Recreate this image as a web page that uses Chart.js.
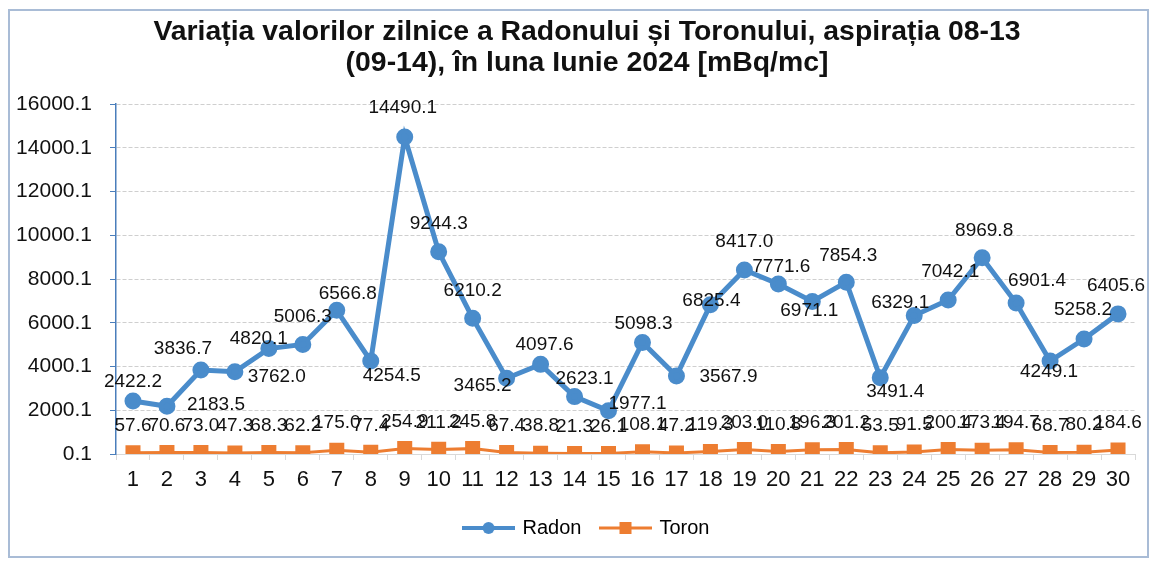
<!DOCTYPE html>
<html lang="ro">
<head>
<meta charset="UTF-8">
<title>Radon si Toron - Iunie 2024</title>
<script src="https://cdn.jsdelivr.net/npm/chart.js"></script>
<style>
  html, body { margin: 0; padding: 0; background: #fff; }
  #wrap { position: relative; width: 1155px; height: 561px; overflow: hidden; }
</style>
</head>
<body>
<div id="wrap"><canvas id="radonChart" width="1174" height="561"></canvas></div>
<script>
const days = ['1','2','3','4','5','6','7','8','9','10','11','12','13','14','15',
              '16','17','18','19','20','21','22','23','24','25','26','27','28','29','30'];
const radon = [2422.2, 2183.5, 3836.7, 3762.0, 4820.1, 5006.3, 6566.8, 4254.5, 14490.1, 9244.3,
               6210.2, 3465.2, 4097.6, 2623.1, 1977.1, 5098.3, 3567.9, 6825.4, 8417.0, 7771.6,
               6971.1, 7854.3, 3491.4, 6329.1, 7042.1, 8969.8, 6901.4, 4249.1, 5258.2, 6405.6];
const toron = [57.6, 70.6, 73.0, 47.3, 68.3, 62.2, 175.0, 77.4, 254.9, 211.2,
               245.8, 67.4, 38.8, 21.3, 26.1, 108.1, 47.2, 119.3, 203.0, 110.8,
               196.3, 201.2, 53.5, 91.5, 200.4, 173.4, 194.7, 68.7, 80.2, 184.6];
const yMin = 0.1, yMax = 16000.1, yStep = 2000;

const blue = '#4a8ccb';
const orange = '#ed7d31';

// where each Radon label sits relative to its point (like Excel placed them)
const radonLabelShift = [
  [0,-19],[49,-1],[-18,-21],[42,5],[-10,-10],[0,-28],[11,-17],[21,15],[-2,-29],[0,-28],
  [0,-27],[-24,8],[4,-20],[10,-18],[29,-7],[1,-19],[52,1],[1,-4],[0,-28],[3,-17],
  [-3,9],[2,-26],[15,14],[-14,-13],[2,-28],[2,-27],[21,-22],[-1,11],[-1,-29],[-2,-28]
];

function legendIcon(color, lineW, square) {
  const c = document.createElement('canvas');
  c.width = 53; c.height = 16;
  const g = c.getContext('2d');
  g.strokeStyle = color; g.fillStyle = color; g.lineWidth = lineW;
  g.beginPath(); g.moveTo(0, 8); g.lineTo(53, 8); g.stroke();
  if (square) { g.fillRect(20.5, 2, 12, 12); }
  else { g.beginPath(); g.arc(26.5, 8, 6, 0, Math.PI * 2); g.fill(); }
  return c;
}

const valueLabels = {
  id: 'valueLabels',
  afterDatasetsDraw(chart) {
    const ctx = chart.ctx;
    ctx.save();
    ctx.font = '19px "Liberation Sans", Arial, sans-serif';
    ctx.fillStyle = '#111';
    ctx.textAlign = 'center';
    ctx.textBaseline = 'middle';
    chart.getDatasetMeta(1).data.forEach((pt, i) => {
      ctx.fillText(toron[i].toFixed(1), pt.x, pt.y - 27);
    });
    chart.getDatasetMeta(0).data.forEach((pt, i) => {
      const s = radonLabelShift[i];
      ctx.fillText(radon[i].toFixed(1), pt.x + s[0], pt.y + s[1]);
    });
    ctx.restore();
  }
};

const frame = {
  id: 'frame',
  beforeDraw(chart) {
    const ctx = chart.ctx;
    ctx.save();
    ctx.strokeStyle = '#a9bcd6';
    ctx.lineWidth = 2;
    ctx.strokeRect(9, 10, 1139, 547);
    ctx.restore();
  }
};

Chart.defaults.font.family = '"Liberation Sans", Arial, sans-serif';
Chart.defaults.color = '#000';

new Chart(document.getElementById('radonChart'), {
  type: 'line',
  data: {
    labels: days,
    datasets: [
      {
        label: 'Radon',
        data: radon,
        borderColor: blue,
        backgroundColor: blue,
        borderWidth: 5,
        pointStyle: 'circle',
        pointRadius: 6,
        pointHoverRadius: 6,
        tension: 0
      },
      {
        label: 'Toron',
        data: toron,
        borderColor: orange,
        backgroundColor: orange,
        borderWidth: 3,
        pointStyle: 'rect',
        pointRadius: 8.5,
        pointHoverRadius: 8.5,
        tension: 0
      }
    ]
  },
  options: {
    responsive: false,
    animation: false,
    layout: { padding: { top: 10, left: 0, right: 0, bottom: 13 } },
    plugins: {
      title: {
        display: true,
        text: ['Variația valorilor zilnice a Radonului și Toronului, aspirația 08-13',
               '(09-14), în luna Iunie 2024 [mBq/mc]'],
        font: { size: 28.4, weight: 'bold', lineHeight: 1.09 },
        color: '#111',
        padding: { top: 6.6, bottom: 25.5 }
      },
      legend: {
        position: 'bottom',
        labels: {
          font: { size: 20 },
          color: '#111',
          usePointStyle: true,
          pointStyleWidth: 48,
          padding: 20,
          generateLabels() {
            return [
              { text: 'Radon', pointStyle: legendIcon(blue, 4, false), fillStyle: blue, strokeStyle: blue, lineWidth: 0, datasetIndex: 0, hidden: false },
              { text: 'Toron', pointStyle: legendIcon(orange, 3, true), fillStyle: orange, strokeStyle: orange, lineWidth: 0, datasetIndex: 1, hidden: false }
            ];
          }
        }
      },
      tooltip: { enabled: false }
    },
    scales: {
      x: {
        offset: true,
        afterFit(scale) { scale.height = 44; },
        grid: { display: true, drawOnChartArea: false, offset: true, tickLength: 6, color: '#d9d9d9' },
        border: { color: '#d9d9d9' },
        ticks: { font: { size: 22 }, color: '#111', padding: 7, maxRotation: 0, autoSkip: false }
      },
      y: {
        min: yMin,
        max: yMax,
        afterFit(scale) { scale.width = 116; },
        grid: { color: '#cfcfcf', tickColor: '#4a7ebb', tickLength: 6 },
        border: { color: '#4a7ebb', width: 1.5, dash: [4, 2] },
        ticks: {
          stepSize: yStep,
          font: { size: 21 },
          color: '#111',
          padding: 18,
          callback: v => Number(v).toFixed(1)
        }
      },
      // empty space on the right so title and legend centre like the original
      yRight: {
        position: 'right',
        min: yMin,
        max: yMax,
        afterFit(scale) { scale.width = 39; },
        grid: { display: false },
        border: { display: false },
        ticks: { display: false }
      }
    }
  },
  plugins: [frame, valueLabels]
});
</script>
</body>
</html>
